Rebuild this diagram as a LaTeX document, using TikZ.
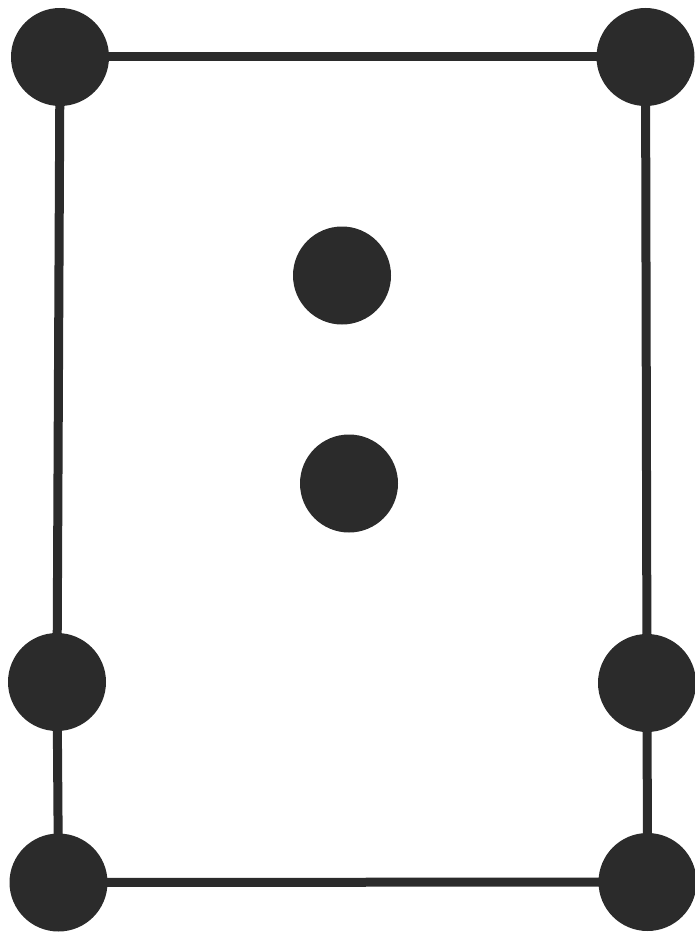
\documentclass[tikz,border=0pt]{standalone}
\usetikzlibrary{backgrounds}
\definecolor{ink}{HTML}{2B2B2B}
\begin{document}
\begin{tikzpicture}[x=1pt,y=-1pt,
  dot/.style={circle,fill=ink,draw=none,minimum size=98pt,inner sep=0pt},
  edge/.style={draw=ink,line width=9pt}]
\useasboundingbox (0,0) rectangle (695,934);
\node[dot] (tl) at (60,57) {};
\node[dot] (tr) at (645.5,57) {};
\node[dot] (ct) at (342,275.5) {};
\node[dot] (cb) at (349,483.5) {};
\node[dot] (lm) at (57,682) {};
\node[dot] (rm) at (647,683) {};
\node[dot] (bl) at (58.5,882.5) {};
\node[dot] (br) at (647.5,882) {};
\begin{scope}[on background layer]
\draw[edge] (tl.center) -- (tr.center);
\draw[edge] (tl.center) -- (lm.center);
\draw[edge] (lm.center) -- (bl.center);
\draw[edge] (bl.center) -- (br.center);
\draw[edge] (tr.center) -- (rm.center);
\draw[edge] (rm.center) -- (br.center);
\end{scope}
\end{tikzpicture}
\end{document}
